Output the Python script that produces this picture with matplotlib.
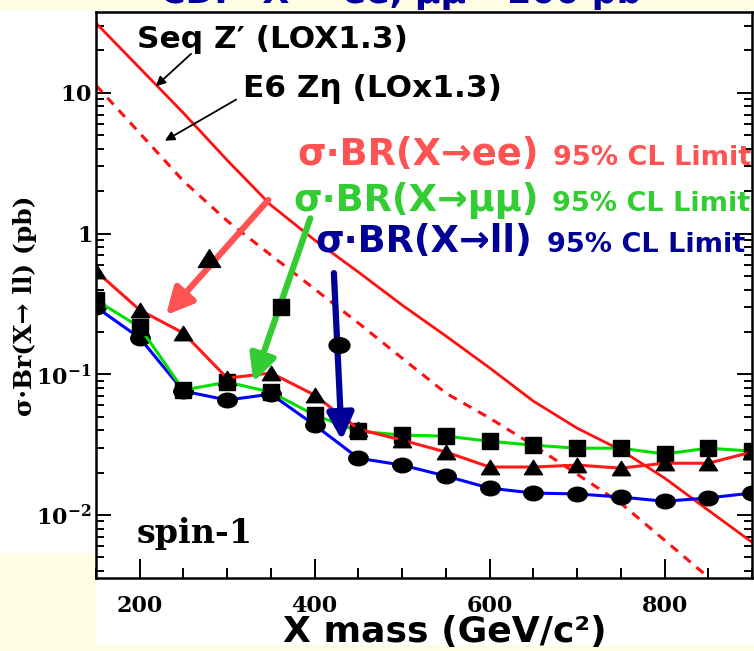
import numpy as np
import matplotlib.pyplot as plt
from matplotlib.patches import Rectangle
from matplotlib.path import Path
from matplotlib.transforms import Affine2D
from matplotlib.ticker import MultipleLocator, LogLocator, NullFormatter

plt.rcParams['mathtext.fontset'] = 'dejavuserif'

# --- limits (pb) vs mass (GeV/c^2) ---
mass = [150, 200, 250, 300, 350, 400, 450, 500, 550, 600, 650, 700, 750, 800, 850, 900]
lim_ee = [0.54, 0.286, 0.196, 0.0937, 0.102, 0.0711, 0.0407, 0.0340, 0.0280, 0.0219,
          0.0219, 0.0226, 0.0215, 0.0233, 0.0233, 0.0280]
lim_mumu = [0.336, 0.216, 0.0771, 0.0879, 0.0746, 0.0512, 0.0394, 0.0369, 0.0363, 0.0334,
            0.0313, 0.0298, 0.0298, 0.0271, 0.0298, 0.0284]
lim_ll = [0.300, 0.181, 0.0759, 0.0655, 0.0722, 0.0435, 0.0253, 0.0226, 0.0189, 0.0155,
          0.0143, 0.0141, 0.0134, 0.0125, 0.0132, 0.0143]

# theory curves (LO x 1.3)
seq_mass = [150, 200, 250, 300, 350, 400, 450, 500, 550, 600, 650, 700, 750, 800, 850, 900]
seq_xs = [31.3, 15.0, 7.18, 3.32, 1.59, 0.898, 0.532, 0.310, 0.187, 0.111, 0.0644,
          0.0414, 0.0289, 0.0183, 0.0108, 0.0064]
e6_mass = [150, 200, 250, 300, 350, 400, 450, 500, 550, 600, 650, 700, 750, 800, 850]
e6_xs = [11.3, 5.17, 2.36, 1.23, 0.702, 0.403, 0.231, 0.130, 0.0734, 0.0488, 0.0313,
         0.0195, 0.0121, 0.00662, 0.00361]

yticks = [0.01, 0.1, 1, 10]
ytick_labels = [r'$\mathbf{10^{-2}}$', r'$\mathbf{10^{-1}}$', r'$\mathbf{1}$', r'$\mathbf{10}$']
xticks = [200, 400, 600, 800]

YELLOW = '#fffee4'
RED_TXT = '#ff5252'
GREEN_TXT = '#33cc33'
BLUE_TXT = '#000099'

# sideways-stretched markers
ellipse = Path.unit_circle().transformed(Affine2D().scale(1.0, 0.75))
tri = Path([(0, 0.8), (-1, -0.8), (1, -0.8), (0, 0.8)],
           [Path.MOVETO, Path.LINETO, Path.LINETO, Path.CLOSEPOLY])

fig = plt.figure(figsize=(7.54, 6.51), dpi=100, facecolor=YELLOW)
fig.patches.append(Rectangle((0, 0.1505), 1, 0.834, transform=fig.transFigure,
                             facecolor='white', edgecolor='none', zorder=-5))
fig.patches.append(Rectangle((0.1273, 0.0092), 0.8727, 0.1413, transform=fig.transFigure,
                             facecolor='white', edgecolor='none', zorder=-5))

ax = fig.add_axes([0.1273, 0.1121, 0.8700, 0.8694])
ax.set_facecolor('white')
ax.set_yscale('log')
ax.set_xlim(150, 900)
ax.set_ylim(0.00356, 37.5)

# theory
ax.plot(seq_mass, seq_xs, color='#ff1010', lw=2.0, zorder=2)
ax.plot(e6_mass, e6_xs, color='#ff1010', lw=2.2, dashes=(3, 2.5), zorder=2)

# limits
ax.plot(mass, lim_ll, color='#0000ff', lw=2.2, marker=ellipse, ms=14, mfc='black',
        mec='black', zorder=3)
ax.plot(mass, lim_mumu, color='#00e000', lw=2.2, marker='s', ms=11, mfc='black',
        mec='black', zorder=4)
ax.plot(mass, lim_ee, color='#ff1a1a', lw=2.2, marker=tri, ms=13, mfc='black',
        mec='black', zorder=5)

# axes styling
for s in ax.spines.values():
    s.set_linewidth(1.8)
ax.set_xticks(xticks)
ax.xaxis.set_minor_locator(MultipleLocator(50))
ax.set_yticks(yticks)
ax.set_yticklabels(ytick_labels)
ax.yaxis.set_minor_locator(LogLocator(subs=np.arange(2, 10)))
ax.yaxis.set_minor_formatter(NullFormatter())
ax.tick_params(which='both', direction='in', right=True, width=1.4)
ax.tick_params(axis='x', which='major', length=14, pad=12)
ax.tick_params(axis='x', which='minor', length=7)
ax.tick_params(axis='y', which='major', length=11, pad=3)
ax.tick_params(axis='y', which='minor', length=6)
for lab in ax.get_xticklabels():
    lab.set_fontfamily('DejaVu Serif')
    lab.set_fontweight('bold')
    lab.set_fontsize(16)
for lab in ax.get_yticklabels():
    lab.set_fontsize(16)

# labels
fig.text(0.033, 0.531, r'σ·Br(X→ ll) (pb)', rotation=90, ha='center', va='center',
         family='DejaVu Serif', weight='bold', fontsize=18)
fig.text(0.590, 0.0138, 'X mass (GeV/c²)', ha='center', va='baseline',
         family='DejaVu Sans', weight='bold', fontsize=26)
fig.text(0.212, 1 - 3 / 651, 'CDF  X → ee, μμ ~200 pb⁻¹', ha='left', va='baseline',
         family='DejaVu Sans', weight='bold', fontsize=25, color=BLUE_TXT)

ax.text(0.0625, 0.0618, 'spin-1', transform=ax.transAxes, family='DejaVu Serif',
        weight='bold', fontsize=24, va='baseline')

# theory labels with pointers
ax.text(0.0625, 0.9364, "Seq Z′ (LOX1.3)", transform=ax.transAxes, va='baseline',
        family='DejaVu Sans', weight='bold', fontsize=22.5)
ax.text(0.224, 0.8498, "E6 Zη (LOx1.3)", transform=ax.transAxes, va='baseline',
        family='DejaVu Sans', weight='bold', fontsize=22.5)
thin = dict(arrowstyle='-|>', color='black', lw=1.3, mutation_scale=14)
ax.annotate('', xy=(216, 10.8), xytext=(261, 19.5), arrowprops=thin)
ax.annotate('', xy=(226, 4.46), xytext=(313, 9.16), arrowprops=thin)

# channel labels
rows = [(0.3064, 0.6966, 0.7297, 'σ·BR(X→ee)', RED_TXT),
        (0.3003, 0.6951, 0.6484, 'σ·BR(X→μμ)', GREEN_TXT),
        (0.3338, 0.6875, 0.5760, 'σ·BR(X→ll)', BLUE_TXT)]
for x0, x1, yb, txt, col in rows:
    ax.text(x0, yb, txt, transform=ax.transAxes, va='baseline', family='DejaVu Sans',
            weight='bold', fontsize=26.5, color=col, zorder=6)
    ax.text(x1, yb, '95% CL Limit', transform=ax.transAxes, va='baseline',
            family='DejaVu Sans', weight='bold', fontsize=19.5, color=col, zorder=6)

# thick arrows carrying the marker keys
def key_arrow(tail, tip, col, key, keymarker, ms):
    ax.annotate('', xy=tip, xytext=tail, zorder=6,
                arrowprops=dict(arrowstyle='-|>', color=col, lw=4.5, mutation_scale=40,
                                shrinkA=0, shrinkB=0))
    ax.plot([key[0]], [key[1]], marker=keymarker, ms=ms, color='black', zorder=7)

key_arrow((347, 1.73), (230, 0.263), RED_TXT, (279, 0.668), tri, 16)
key_arrow((395, 1.28), (330, 0.0881), GREEN_TXT, (362, 0.300), 's', 12)
key_arrow((422, 0.523), (431, 0.034), BLUE_TXT, (428, 0.161), ellipse, 15)

fig.savefig('out.png', dpi=100, facecolor=YELLOW)
